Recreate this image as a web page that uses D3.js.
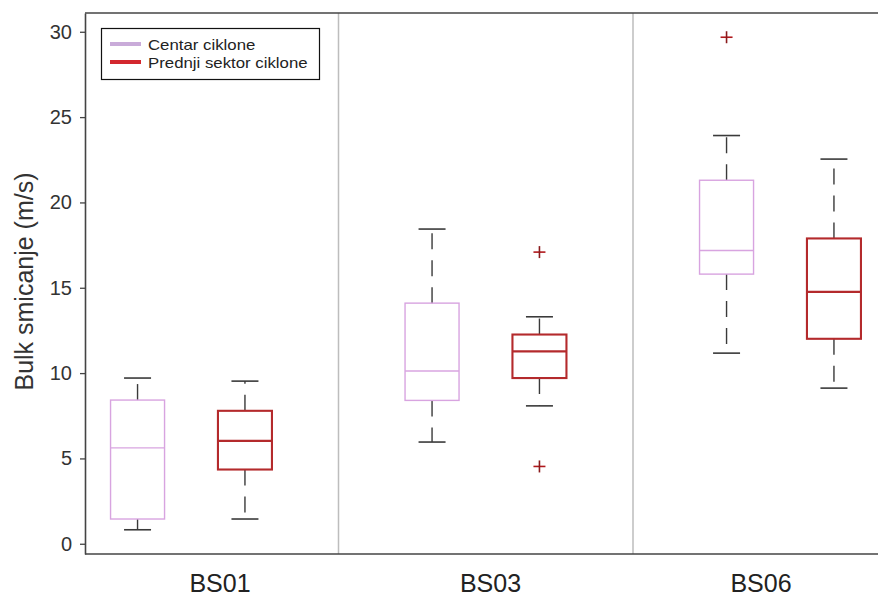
<!DOCTYPE html>
<html>
<head>
<meta charset="utf-8">
<script src="https://cdn.jsdelivr.net/npm/d3@7"></script>
<style>
  html, body { margin: 0; padding: 0; background: #fff; }
  svg { display: block; font-family: Arial, "Liberation Sans", Helvetica, sans-serif; }
</style>
</head>
<body>
<svg id="chart" width="878" height="598"></svg>
<script>
// ---- data ----
const groups = ["BS01", "BS03", "BS06"];
const series = ["Centar ciklone", "Prednji sektor ciklone"];

const centarWhiskerLow  = [0.82, 5.96, 11.17];
const centarQ1          = [1.45, 8.40, 15.80];
const centarMedian      = [5.62, 10.12, 17.18];
const centarQ3          = [8.42, 14.10, 21.30];
const centarWhiskerHigh = [9.71, 18.44, 23.92];
const centarOutliers    = [[], [], [29.68]];

const prednjiWhiskerLow  = [1.45, 8.08, 9.12];
const prednjiQ1          = [4.35, 9.71, 12.01];
const prednjiMedian      = [6.03, 11.27, 14.76];
const prednjiQ3          = [7.79, 12.26, 17.89];
const prednjiWhiskerHigh = [9.53, 13.30, 22.54];
const prednjiOutliers    = [[], [17.09, 4.53], []];

const yTicks = [0, 5, 10, 15, 20, 25, 30];
const yTitle = "Bulk smicanje (m/s)";

// ---- build box table ----
const stats = [
  {lo: centarWhiskerLow, q1: centarQ1, med: centarMedian, q3: centarQ3, hi: centarWhiskerHigh, out: centarOutliers},
  {lo: prednjiWhiskerLow, q1: prednjiQ1, med: prednjiMedian, q3: prednjiQ3, hi: prednjiWhiskerHigh, out: prednjiOutliers}
];
const boxes = [];
groups.forEach((g, gi) => {
  series.forEach((s, si) => {
    const st = stats[si];
    boxes.push({group: g, series: s, si,
      lo: st.lo[gi], q1: st.q1[gi], med: st.med[gi], q3: st.q3[gi], hi: st.hi[gi], out: st.out[gi]});
  });
});

// ---- layout ----
const svg = d3.select("#chart");
const plotLeft = 85, plotRight = 878, plotTop = 13, plotBottom = 554;

const y = d3.scaleLinear().domain([-0.6, 31.1]).range([plotBottom, plotTop]);
const xGroup = d3.scaleBand().domain(groups).range([44, 927.5]).padding(0);
const bw = xGroup.bandwidth();
const xSeries = d3.scalePoint().domain(series).range([bw / 2 - 53.7, bw / 2 + 53.7]);
const xLabel = d3.scalePoint().domain(groups).range([220, 761]);

const boxW = 54, capW = 27;
const boxStroke = ["#d8a4e0", "#b42a2c"];
const boxWidth = [1.4, 2.1];
const legendColor = ["#c9abd9", "#d3272e"];

// separators between groups
svg.append("g").selectAll("line")
  .data(groups.slice(1))
  .join("line")
  .attr("x1", d => xGroup(d)).attr("x2", d => xGroup(d))
  .attr("y1", plotTop).attr("y2", plotBottom)
  .attr("stroke", "#bdbdbd").attr("stroke-width", 1.5);

// frame: top and bottom
svg.append("line").attr("x1", plotLeft).attr("x2", plotRight)
  .attr("y1", plotTop).attr("y2", plotTop).attr("stroke", "#444").attr("stroke-width", 1.6);
svg.append("line").attr("x1", plotLeft).attr("x2", plotRight)
  .attr("y1", plotBottom).attr("y2", plotBottom).attr("stroke", "#444").attr("stroke-width", 1.6);

// y axis
const yAxis = svg.append("g")
  .attr("transform", `translate(${plotLeft},0)`)
  .call(d3.axisLeft(y).tickValues(yTicks).tickSize(5).tickSizeOuter(0).tickPadding(8));
yAxis.select(".domain").attr("stroke", "#444").attr("stroke-width", 1.6);
yAxis.selectAll(".tick line").attr("stroke", "#444").attr("stroke-width", 1.3);
yAxis.selectAll(".tick text").attr("font-size", 20).attr("fill", "#333")
  .attr("font-family", "Arial, 'Liberation Sans', sans-serif");

// y title
svg.append("text")
  .attr("transform", "translate(33,281.5) rotate(-90)")
  .attr("text-anchor", "middle")
  .attr("font-size", 25)
  .attr("fill", "#333")
  .text(yTitle);

// category labels
svg.append("g").selectAll("text")
  .data(groups)
  .join("text")
  .attr("x", d => xLabel(d))
  .attr("y", 592)
  .attr("text-anchor", "middle")
  .attr("font-size", 25)
  .attr("fill", "#222")
  .text(d => d);

// boxes
const cx = d => xGroup(d.group) + xSeries(d.series);
const gBox = svg.append("g").selectAll("g").data(boxes).join("g");

// whiskers (dashed)
gBox.append("line")
  .attr("x1", cx).attr("x2", cx)
  .attr("y1", d => y(d.q3)).attr("y2", d => y(d.hi))
  .attr("stroke", "#3a3a3a").attr("stroke-width", 1.4).attr("stroke-dasharray", "16,11");
gBox.append("line")
  .attr("x1", cx).attr("x2", cx)
  .attr("y1", d => y(d.q1)).attr("y2", d => y(d.lo))
  .attr("stroke", "#3a3a3a").attr("stroke-width", 1.4).attr("stroke-dasharray", "16,11");
// caps
gBox.append("line")
  .attr("x1", d => cx(d) - capW / 2).attr("x2", d => cx(d) + capW / 2)
  .attr("y1", d => y(d.hi)).attr("y2", d => y(d.hi))
  .attr("stroke", "#3a3a3a").attr("stroke-width", 1.6);
gBox.append("line")
  .attr("x1", d => cx(d) - capW / 2).attr("x2", d => cx(d) + capW / 2)
  .attr("y1", d => y(d.lo)).attr("y2", d => y(d.lo))
  .attr("stroke", "#3a3a3a").attr("stroke-width", 1.6);
// box
gBox.append("rect")
  .attr("x", d => cx(d) - boxW / 2)
  .attr("y", d => y(d.q3))
  .attr("width", boxW)
  .attr("height", d => y(d.q1) - y(d.q3))
  .attr("fill", "none")
  .attr("stroke", d => boxStroke[d.si])
  .attr("stroke-width", d => boxWidth[d.si]);
// median
gBox.append("line")
  .attr("x1", d => cx(d) - boxW / 2).attr("x2", d => cx(d) + boxW / 2)
  .attr("y1", d => y(d.med)).attr("y2", d => y(d.med))
  .attr("stroke", d => boxStroke[d.si])
  .attr("stroke-width", d => boxWidth[d.si]);
// outliers
gBox.each(function(d) {
  const g = d3.select(this);
  d.out.forEach(v => {
    const px = cx(d), py = y(v);
    g.append("line").attr("x1", px - 6).attr("x2", px + 6).attr("y1", py).attr("y2", py)
      .attr("stroke", "#b0181c").attr("stroke-width", 1.6);
    g.append("line").attr("x1", px).attr("x2", px).attr("y1", py - 6).attr("y2", py + 6)
      .attr("stroke", "#8a1a1c").attr("stroke-width", 1.6);
  });
});

// legend
const leg = svg.append("g");
leg.append("rect").attr("x", 101.5).attr("y", 28.5).attr("width", 218).attr("height", 51)
  .attr("fill", "#fff").attr("stroke", "#111").attr("stroke-width", 1.2);
const legItems = leg.selectAll("g.item").data(series).join("g").attr("class", "item");
legItems.append("line")
  .attr("x1", 110).attr("x2", 141)
  .attr("y1", (d, i) => 44 + i * 18).attr("y2", (d, i) => 44 + i * 18)
  .attr("stroke", (d, i) => legendColor[i]).attr("stroke-width", 4);
legItems.append("text")
  .attr("transform", (d, i) => `translate(148,${49.5 + i * 18.5}) scale(1.2,1)`)
  .attr("font-size", 14)
  .attr("fill", "#222")
  .text(d => d);
</script>
</body>
</html>
